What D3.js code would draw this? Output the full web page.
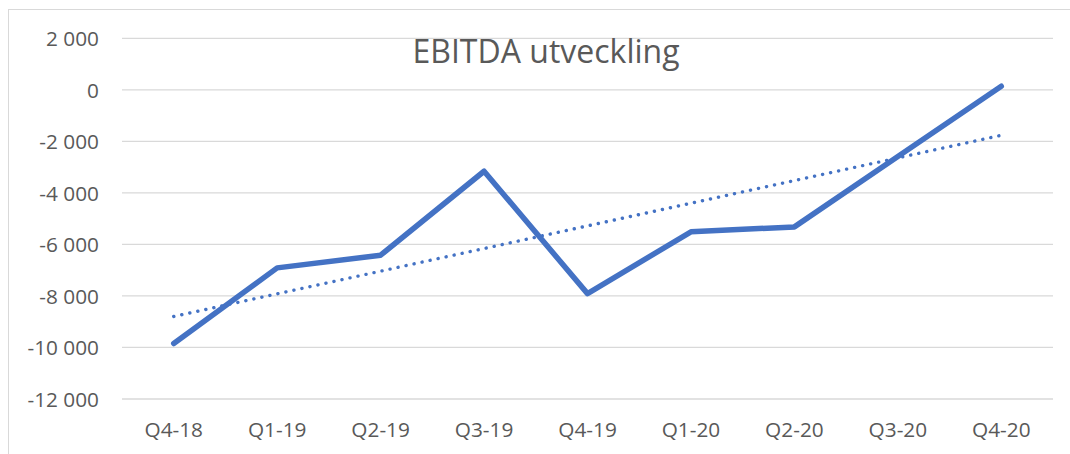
<!DOCTYPE html>
<html>
<head>
<meta charset="utf-8">
<script src="https://cdn.jsdelivr.net/npm/d3@7"></script>
<style>
    html, body { margin: 0; padding: 0; background: #fff; }
    svg { display: block; }
</style>
</head>
<body>
<div id="chart"></div>
<script>
// quarters on the x axis
const quarters = ['Q4-18', 'Q1-19', 'Q2-19', 'Q3-19', 'Q4-19', 'Q1-20', 'Q2-20', 'Q3-20', 'Q4-20'];
// EBITDA per quarter
const ebitda = [-9845, -6910, -6420, -3160, -7910, -5510, -5320, -2590, 140];
// y axis ticks
const yTicks = [2000, 0, -2000, -4000, -6000, -8000, -10000, -12000];
const title = 'EBITDA utveckling';

const width = 1070;
const height = 454;
const margin = {top: 38.3, right: 17, bottom: 55, left: 122};
const font = '"Open Sans", "DejaVu Sans", sans-serif';
const textColor = '#595959';
const lineColor = '#4472C4';

const svg = d3.select('#chart').append('svg')
    .attr('width', width)
    .attr('height', height)
    .attr('viewBox', [0, 0, width, height]);

// chart area border (right and bottom edges fall outside the picture)
svg.append('rect')
    .attr('x', 8.5)
    .attr('y', 9.5)
    .attr('width', width + 10)
    .attr('height', height + 10)
    .attr('fill', 'none')
    .attr('stroke', '#d9d9d9')
    .attr('stroke-width', 1);

let x = d3.scaleBand()
    .domain(quarters)
    .range([margin.left, width - margin.right])
    .paddingInner(0)
    .paddingOuter(0);

let y = d3.scaleLinear()
    .domain([-12000, 2000])
    .range([height - margin.bottom, margin.top]);

const cx = d => x(d) + x.bandwidth() / 2;

// gridlines
svg.append('g')
    .selectAll('line')
    .data(yTicks)
    .join('line')
    .attr('x1', margin.left)
    .attr('x2', width - margin.right)
    .attr('y1', d => y(d))
    .attr('y2', d => y(d))
    .attr('stroke', '#d9d9d9')
    .attr('stroke-width', 1.3);

// y labels, thousands separated by a space
const fmt = d => {
    let s = d3.format(',')(Math.abs(d)).replace(/,/g, ' ');
    return (d < 0 ? '-' : '') + s;
};

let yAxis = g => g
    .attr('transform', `translate(${margin.left - 23}, 0)`)
    .call(d3.axisLeft(y).tickValues(yTicks).tickSize(0).tickPadding(0).tickFormat(fmt))
    .call(g => g.select('.domain').remove())
    .call(g => g.selectAll('text')
        .attr('fill', textColor)
        .attr('font-family', font)
        .attr('font-size', 20.8)
        .attr('dy', '0.36em'));

svg.append('g').call(yAxis);

let xAxis = g => g
    .attr('transform', `translate(0, ${height - margin.bottom})`)
    .call(d3.axisBottom(x).tickSize(0).tickPadding(0))
    .call(g => g.select('.domain').remove())
    .call(g => g.selectAll('text')
        .attr('fill', textColor)
        .attr('font-family', font)
        .attr('font-size', 20.8)
        .attr('y', 37.5)
        .attr('dy', 0));

svg.append('g').call(xAxis);

// linear trend line (least squares over the quarter index)
let n = ebitda.length;
let meanX = (n - 1) / 2;
let meanY = d3.mean(ebitda);
let slope = d3.sum(ebitda, (v, i) => (i - meanX) * (v - meanY)) / d3.sum(ebitda, (v, i) => (i - meanX) ** 2);
let trend = quarters.map((q, i) => ({q, v: meanY + slope * (i - meanX)}));

svg.append('path')
    .datum([trend[0], trend[n - 1]])
    .attr('fill', 'none')
    .attr('stroke', lineColor)
    .attr('stroke-width', 3.4)
    .attr('stroke-linecap', 'round')
    .attr('stroke-dasharray', '0.1 8.1')
    .attr('d', d3.line().x(d => cx(d.q)).y(d => y(d.v)));

// EBITDA line
svg.append('path')
    .datum(quarters.map((q, i) => ({q, v: ebitda[i]})))
    .attr('fill', 'none')
    .attr('stroke', lineColor)
    .attr('stroke-width', 5.5)
    .attr('stroke-linejoin', 'round')
    .attr('stroke-linecap', 'round')
    .attr('d', d3.line().x(d => cx(d.q)).y(d => y(d.v)));

// title
svg.append('text')
    .attr('x', 546)
    .attr('y', 63.3)
    .attr('text-anchor', 'middle')
    .attr('fill', textColor)
    .attr('font-family', font)
    .attr('font-size', 32)
    .text(title);
</script>
</body>
</html>
